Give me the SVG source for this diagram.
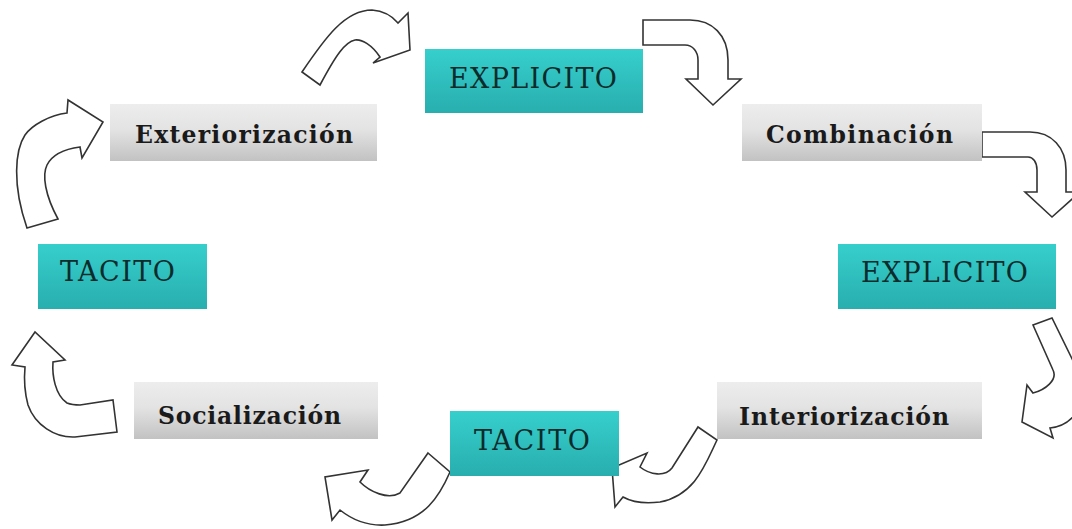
<svg xmlns="http://www.w3.org/2000/svg" width="1072" height="529" viewBox="0 0 1072 529">
<defs>
<linearGradient id="teal" x1="0" y1="0" x2="0" y2="1">
<stop offset="0" stop-color="#36CFCC"/>
<stop offset="1" stop-color="#28AEAE"/>
</linearGradient>
<linearGradient id="gray" x1="0" y1="0" x2="0" y2="1">
<stop offset="0" stop-color="#EDEDED"/>
<stop offset="0.45" stop-color="#E3E3E3"/>
<stop offset="1" stop-color="#C2C2C2"/>
</linearGradient>
<style>
.teal{fill:url(#teal);}
.gray{fill:url(#gray);}
.tt{font-family:"DejaVu Serif","Liberation Serif",serif;font-size:27px;fill:#0c2c2c;}
.gt{font-family:"DejaVu Serif","Liberation Serif",serif;font-size:23.5px;font-weight:bold;fill:#1a1a1a;}
.arr{fill:#ffffff;stroke:#333333;stroke-width:1.6;stroke-linejoin:miter;}
</style>
</defs>
<rect width="1072" height="529" fill="#ffffff"/>
<g id="connectors">
<path class="arr" d="M302,72 C325,38 345,10 372,10 C385,11 393,17 398,23 L408,13 L410,50 L373,63 L380,57 C372,45 362,39 355,40 C345,42 336,55 320,85 Z"/>
<path class="arr" d="M643,20 L690,20 C712,20 728,35 728,60 L728,79 L741,79 L713,105 L686,79 L698,79 L698,60 C698,52 693,45 685,45 L643,45 Z"/>
<path class="arr" d="M982,132 L1030,132 C1052,132 1066,148 1066,170 L1066,192 L1080,192 L1052,217 L1025,192 L1037,192 L1037,170 C1037,162 1033,157 1028,157 L982,157 Z"/>
<path class="arr" d="M1033,325 L1052,318 L1080,375 C1090,400 1075,425 1050,428 L1053,438 L1022,422 L1027,385 L1033,393 C1045,390 1058,380 1053,370 Z"/>
<path class="arr" d="M698,427 L717,440 C705,465 695,495 660,502 C645,504 632,502 623,497 L615,507 L612,468 L647,453 L640,467 C650,475 665,477 672,468 Z"/>
<path class="arr" d="M428,453 L450,472 C440,495 425,522 385,525 C365,526 350,518 340,510 L332,520 L325,477 L368,470 L360,482 C370,492 388,500 400,493 Z"/>
<path class="arr" d="M113,400 L117,432 L75,437 C55,438 35,425 28,405 C24,390 24,378 25,367 L12,365 L35,332 L65,360 L53,362 C52,375 55,395 67,403 C72,405 76,405 80,405 Z"/>
<path class="arr" d="M27,228 L58,219 C45,195 42,175 47,165 C52,155 65,149 80,147 L82,158 L103,122 L68,100 L67,113 C50,115 32,125 25,135 C15,150 12,185 27,228 Z"/>
</g>
<g id="explicito-top">
<rect class="teal" x="425" y="49" width="218" height="64"/>
<text class="tt" x="449" y="88" textLength="168" lengthAdjust="spacing">EXPLICITO</text>
</g>
<g id="exteriorizacion">
<rect class="gray" x="110" y="104" width="267" height="57"/>
<text class="gt" x="135" y="143" textLength="218" lengthAdjust="spacing">Exteriorización</text>
</g>
<g id="combinacion">
<rect class="gray" x="742" y="104" width="240" height="57"/>
<text class="gt" x="766" y="143" textLength="187" lengthAdjust="spacing">Combinación</text>
</g>
<g id="tacito-left">
<rect class="teal" x="38" y="244" width="169" height="65"/>
<text class="tt" x="60" y="281" textLength="115" lengthAdjust="spacing">TACITO</text>
</g>
<g id="explicito-right">
<rect class="teal" x="838" y="244" width="218" height="65"/>
<text class="tt" x="861" y="282" textLength="167" lengthAdjust="spacing">EXPLICITO</text>
</g>
<g id="socializacion">
<rect class="gray" x="134" y="382" width="244" height="57"/>
<text class="gt" x="158" y="424" textLength="183" lengthAdjust="spacing">Socialización</text>
</g>
<g id="tacito-bottom">
<rect class="teal" x="450" y="411" width="169" height="65"/>
<text class="tt" x="474" y="450" textLength="116" lengthAdjust="spacing">TACITO</text>
</g>
<g id="interiorizacion">
<rect class="gray" x="717" y="382" width="265" height="57"/>
<text class="gt" x="739" y="425" textLength="210" lengthAdjust="spacing">Interiorización</text>
</g>
</svg>
